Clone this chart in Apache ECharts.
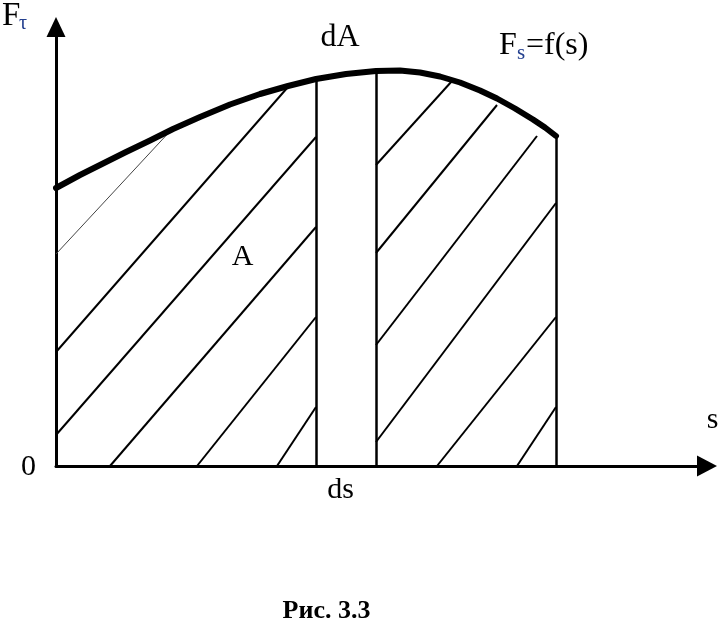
<!DOCTYPE html>
<html>
<head>
<meta charset="utf-8">
<script src="https://cdn.jsdelivr.net/npm/echarts@6/dist/echarts.min.js"></script>
<style>
html,body{margin:0;padding:0;background:#fff;}
#chart{width:724px;height:626px;}
</style>
</head>
<body>
<div id="chart"></div>
<script>
// Curve F_s = f(s): [s, F]
var curveS = [0, 24, 44, 69, 94, 117, 144, 174, 204, 232, 260, 290, 320, 344, 364, 384, 404, 424, 441, 459, 477, 489, 500];
var curveF = [278, 291, 301, 313.5, 325.5, 337, 349, 361.5, 372, 380, 387, 392, 395, 395.5, 393.5, 389.5, 383.5, 375.5, 367.5, 357.5, 346.5, 338.5, 330];

// Hatch lines [[s1,F1],[s2,F2]]
var hatchThin = [[[0, 212], [117, 338]]];
var hatchLeft = [
  [[0, 114], [232, 379]],
  [[0, 31], [260, 329]],
  [[54, 0], [260, 239]],
  [[141, 0], [260, 149]],
  [[221, 0], [260, 59]]
];
var hatchRight = [
  [[320, 301], [396, 385]],
  [[320, 213], [441, 361]],
  [[320, 121], [481, 330]],
  [[320, 24], [500, 263]],
  [[381, 0], [500, 149]],
  [[461, 0], [500, 59]]
];
// Vertical boundaries of the strip dA and the right edge
var verticalS = [260, 320, 500];
var verticalTop = [387, 395, 330];

var sMax = 651, fMax = 439;

var font = '"Liberation Serif", "Times New Roman", serif';
var subColor = '#24408f';

var chart = echarts.init(document.getElementById('chart'), null, {renderer: 'canvas'});

function toLines(arr) { return arr.map(function (c) { return {coords: c}; }); }

var curveData = curveS.map(function (s, i) { return [s, curveF[i]]; });
var vertData = verticalS.map(function (s, i) { return {coords: [[s, 0], [s, verticalTop[i]]]}; });

var option = {
  animation: false,
  backgroundColor: '#fff',
  grid: {left: 56, right: 17, top: 27, bottom: 160},
  xAxis: {
    type: 'value', min: 0, max: sMax,
    splitLine: {show: false}, axisTick: {show: false}, axisLabel: {show: false},
    axisLine: {show: true, onZero: false, lineStyle: {color: '#000', width: 3},
      symbol: ['none', 'triangle'], symbolSize: [21, 20]}
  },
  yAxis: {
    type: 'value', min: 0, max: fMax,
    splitLine: {show: false}, axisTick: {show: false}, axisLabel: {show: false},
    axisLine: {show: true, onZero: false, lineStyle: {color: '#000', width: 3},
      symbol: ['none', 'triangle'], symbolSize: [19, 20]}
  },
  series: [
    {type: 'lines', coordinateSystem: 'cartesian2d', data: toLines(hatchThin),
      lineStyle: {color: '#444', width: 1, opacity: 1}, silent: true},
    {type: 'lines', coordinateSystem: 'cartesian2d', data: toLines(hatchLeft),
      lineStyle: {color: '#000', width: 2, opacity: 1}, silent: true},
    {type: 'lines', coordinateSystem: 'cartesian2d', data: toLines(hatchRight),
      lineStyle: {color: '#000', width: 2, opacity: 1}, silent: true},
    {type: 'lines', coordinateSystem: 'cartesian2d', data: vertData,
      lineStyle: {color: '#000', width: 2.5, opacity: 1}, silent: true},
    {type: 'line', data: curveData, smooth: false, showSymbol: false, symbol: 'none',
      lineStyle: {color: '#000', width: 6, cap: 'round', join: 'round'}, z: 5}
  ],
  graphic: [
    {type: 'text', x: 2, y: 16, style: {text: 'F', font: '33px ' + font, fill: '#000', verticalAlign: 'middle'}, z: 10},
    {type: 'text', x: 19, y: 24, style: {text: 'τ', font: '20px ' + font, fill: subColor, verticalAlign: 'middle'}, z: 10},
    {type: 'text', x: 28.5, y: 467, style: {text: '0', font: '30px ' + font, fill: '#000', align: 'center', verticalAlign: 'middle'}, z: 10},
    {type: 'text', x: 712.5, y: 420, style: {text: 's', font: '30px ' + font, fill: '#000', align: 'center', verticalAlign: 'middle'}, z: 10},
    {type: 'text', x: 340.5, y: 490, style: {text: 'ds', font: '30px ' + font, fill: '#000', align: 'center', verticalAlign: 'middle'}, z: 10},
    {type: 'text', x: 242.5, y: 257, style: {text: 'A', font: '30px ' + font, fill: '#000', align: 'center', verticalAlign: 'middle'}, z: 10},
    {type: 'text', x: 340, y: 38, style: {text: 'dA', font: '32px ' + font, fill: '#000', align: 'center', verticalAlign: 'middle'}, z: 10},
    {type: 'text', x: 499, y: 46, style: {text: 'F', font: '32px ' + font, fill: '#000', verticalAlign: 'middle'}, z: 10},
    {type: 'text', x: 517, y: 53.5, style: {text: 's', font: '21px ' + font, fill: subColor, verticalAlign: 'middle'}, z: 10},
    {type: 'text', x: 526, y: 46, style: {text: '=f(s)', font: '32px ' + font, fill: '#000', verticalAlign: 'middle'}, z: 10},
    {type: 'text', x: 326.5, y: 611.5, style: {text: 'Рис. 3.3', font: 'bold 26px ' + font, fill: '#000', align: 'center', verticalAlign: 'middle'}, z: 10}
  ]
};
chart.setOption(option);
</script>
</body>
</html>
